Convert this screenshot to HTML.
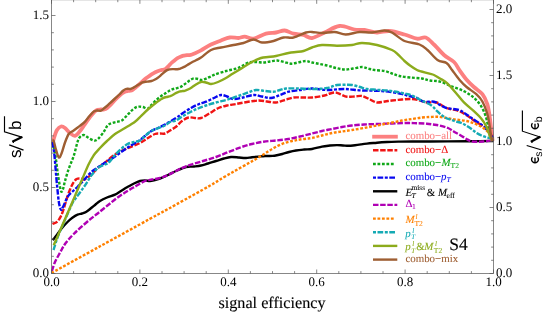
<!DOCTYPE html>
<html><head><meta charset="utf-8"><title>chart</title>
<style>html,body{margin:0;padding:0;background:#fff;}body{width:545px;height:314px;overflow:hidden;position:relative;font-family:"Liberation Serif",serif;}</style></head>
<body>
<svg width="545" height="314" viewBox="0 0 545 314" style="position:absolute;left:0;top:0;text-rendering:geometricPrecision;will-change:transform">
<rect x="0" y="0" width="545" height="314" fill="#fff"/>
<g opacity="0.999">
<defs><clipPath id="cp"><rect x="51.5" y="-0.2" width="443.0" height="273.7"/></clipPath></defs>
<g clip-path="url(#cp)" fill="none" stroke-linejoin="round">
<path d="M52.5 145.0C52.8 143.8 53.2 140.5 54.0 138.0C54.8 135.5 55.8 131.9 57.0 130.0C58.2 128.1 59.7 126.8 61.0 126.5C62.3 126.2 63.5 126.9 65.0 128.0C66.5 129.1 68.3 131.7 70.0 133.0C71.7 134.3 73.3 136.1 75.0 135.8C76.7 135.5 78.3 133.0 80.0 131.0C81.7 129.0 83.3 126.3 85.0 124.0C86.7 121.7 88.2 119.2 90.0 117.0C91.8 114.8 94.2 111.8 96.0 110.5C97.8 109.2 99.7 109.7 101.0 109.5C102.3 109.3 103.0 109.8 104.0 109.5C105.0 109.2 106.1 108.6 107.3 107.8C108.5 107.0 109.8 105.7 111.0 104.5C112.2 103.3 113.2 101.9 114.5 100.5C115.8 99.1 117.4 97.4 119.0 96.0C120.6 94.6 122.7 92.9 124.2 92.1C125.7 91.3 126.8 91.2 128.0 91.0C129.2 90.8 130.3 91.1 131.5 90.6C132.7 90.1 133.8 89.0 135.0 88.0C136.2 87.0 137.4 85.9 138.7 84.8C139.9 83.7 141.3 82.4 142.5 81.3C143.7 80.2 144.8 79.2 146.0 78.3C147.2 77.4 148.3 76.6 149.5 75.8C150.7 75.0 152.1 74.1 153.3 73.4C154.6 72.7 155.8 72.1 157.0 71.6C158.2 71.1 159.5 70.6 160.5 70.3C161.5 70.0 162.2 70.0 163.0 69.8C163.8 69.6 164.5 69.6 165.4 69.0C166.3 68.4 167.5 67.2 168.5 66.2C169.5 65.2 170.4 64.0 171.4 63.0C172.4 62.0 173.5 61.2 174.5 60.4C175.5 59.6 176.5 58.8 177.5 58.2C178.5 57.6 179.5 57.1 180.5 56.7C181.5 56.3 182.4 56.0 183.5 55.7C184.6 55.5 185.8 55.4 187.0 55.2C188.2 55.1 189.5 55.1 190.8 54.8C192.1 54.5 193.3 53.9 195.0 53.2C196.7 52.5 198.3 51.9 201.0 50.4C203.7 48.9 207.7 46.1 211.0 44.5C214.3 42.9 217.9 41.7 221.0 40.5C224.1 39.3 226.8 37.9 229.7 37.5C232.6 37.1 236.0 38.1 238.5 38.0C241.0 37.9 242.2 36.6 244.7 36.7C247.2 36.8 249.9 39.2 253.5 38.7C257.1 38.2 262.2 34.7 266.0 33.7C269.8 32.7 272.9 33.0 276.0 32.5C279.1 32.0 281.8 30.3 284.7 30.5C287.6 30.7 290.4 33.0 293.5 33.7C296.6 34.5 300.4 34.3 303.5 35.0C306.6 35.7 308.5 38.4 312.0 38.0C315.5 37.6 319.9 34.5 324.5 32.5C329.1 30.5 334.5 26.5 339.5 26.0C344.5 25.5 350.3 28.8 354.5 29.5C358.7 30.2 360.8 29.5 364.5 30.0C368.2 30.5 372.8 32.3 377.0 32.5C381.2 32.7 384.9 30.7 389.5 31.0C394.1 31.3 399.9 33.2 404.5 34.5C409.1 35.8 413.5 38.2 417.0 38.7C420.5 39.2 422.8 36.5 425.7 37.5C428.6 38.5 431.4 42.1 434.5 45.0C437.6 47.9 440.8 52.2 444.0 55.0C447.2 57.8 451.4 59.5 454.0 62.0C456.6 64.5 457.3 67.0 459.4 70.0C461.5 73.0 464.2 76.9 466.6 79.7C469.0 82.5 471.3 84.6 473.9 87.0C476.5 89.4 480.2 91.4 482.4 94.2C484.6 97.0 486.0 100.3 487.2 103.9C488.4 107.5 488.9 111.6 489.6 116.0C490.3 120.4 490.9 127.0 491.3 130.5C491.7 134.0 491.9 135.2 492.2 137.0C492.5 138.8 492.9 140.3 493.0 141.0" stroke="#fc8080" stroke-width="3.8"/>
<path d="M52.5 224.0C52.7 223.9 53.0 223.9 53.7 223.5C54.5 223.1 56.1 222.6 57.0 221.8C57.9 221.1 58.5 220.1 59.3 219.0C60.0 217.9 60.8 216.6 61.5 215.0C62.2 213.4 62.8 211.5 63.5 209.5C64.2 207.5 64.8 205.2 65.5 203.0C66.2 200.8 66.9 198.1 67.6 196.0C68.3 193.9 68.9 192.2 69.6 190.5C70.3 188.8 71.0 187.1 71.7 185.7C72.4 184.3 73.1 183.0 73.8 182.0C74.5 181.0 75.2 180.1 75.9 179.5C76.6 178.9 77.3 178.8 78.0 178.6C78.7 178.4 79.3 178.5 80.0 178.5C80.7 178.5 81.3 178.6 82.0 178.8C82.7 179.0 83.4 179.6 84.2 179.5C85.0 179.4 85.8 178.9 87.0 178.0C88.2 177.1 90.1 175.5 91.4 174.3C92.7 173.1 94.0 171.8 95.0 170.8C96.0 169.8 95.9 169.5 97.6 168.1C99.3 166.7 102.1 164.8 105.0 162.5C107.9 160.2 111.3 156.8 115.0 154.5C118.7 152.2 122.8 150.4 127.0 148.5C131.2 146.6 136.5 144.8 140.0 143.0C143.5 141.2 145.5 139.5 148.0 138.0C150.5 136.5 153.0 134.8 155.0 134.0C157.0 133.2 158.3 133.6 160.0 133.5C161.7 133.4 163.3 134.0 165.0 133.5C166.7 133.0 168.2 131.6 170.0 130.5C171.8 129.4 174.0 128.3 176.0 126.7C178.0 125.1 179.9 122.5 182.0 121.0C184.1 119.5 186.3 118.0 188.5 117.5C190.7 117.0 192.9 117.9 195.0 118.0C197.1 118.1 198.5 118.8 201.0 118.0C203.5 117.2 207.1 114.7 210.0 113.0C212.9 111.3 215.7 109.2 218.5 108.0C221.3 106.8 224.1 106.2 227.0 105.5C229.9 104.8 232.7 104.6 236.0 104.0C239.3 103.4 243.2 102.6 247.0 102.0C250.8 101.4 255.2 100.6 258.5 100.5C261.8 100.4 264.1 101.2 267.0 101.5C269.9 101.8 273.0 102.8 276.0 102.5C279.0 102.2 282.1 100.8 285.0 100.0C287.9 99.2 290.5 97.9 293.5 97.5C296.5 97.1 299.9 97.5 303.0 97.5C306.1 97.5 308.4 97.8 312.0 97.5C315.6 97.2 321.5 96.2 324.5 95.5C327.5 94.8 328.1 94.0 330.0 93.5C331.9 93.0 333.9 92.3 335.7 92.5C337.5 92.7 339.1 93.8 341.0 94.5C342.9 95.2 344.7 96.4 347.0 96.7C349.3 97.0 352.5 96.6 355.0 96.5C357.5 96.4 359.5 95.5 362.0 96.0C364.5 96.5 367.5 98.4 370.0 99.5C372.5 100.6 374.5 102.2 377.0 102.5C379.5 102.8 382.5 101.8 385.0 101.5C387.5 101.2 389.2 100.8 392.0 100.5C394.8 100.2 398.7 99.8 402.0 99.5C405.3 99.2 409.0 98.8 412.0 99.0C415.0 99.2 417.5 99.9 420.0 100.5C422.5 101.1 424.2 102.2 427.0 102.5C429.8 102.8 433.2 101.6 436.5 102.5C439.8 103.4 442.8 106.6 446.5 108.0C450.2 109.4 455.6 109.8 459.0 111.0C462.4 112.2 464.5 113.9 467.0 115.5C469.5 117.1 470.8 118.2 474.0 120.5C477.2 122.8 483.3 126.1 486.5 129.0C489.7 131.9 491.9 136.5 493.0 138.0" stroke="#f01414" stroke-width="2.4" stroke-dasharray="5.5 1.65"/>
<path d="M52.5 142.0C53.0 144.3 54.6 150.5 55.5 156.0C56.4 161.5 57.1 169.2 58.0 175.0C58.9 180.8 60.2 188.7 61.0 191.0C61.8 193.3 62.3 190.7 63.0 189.0C63.7 187.3 64.0 184.5 65.0 181.0C66.0 177.5 67.5 172.2 69.0 168.0C70.5 163.8 72.3 160.3 73.7 156.0C75.1 151.7 76.5 145.2 77.5 142.0C78.5 138.8 79.0 138.2 80.0 137.0C81.0 135.8 82.4 134.9 83.7 135.0C85.0 135.1 86.3 136.6 88.0 137.5C89.7 138.4 92.0 140.2 93.7 140.5C95.4 140.8 96.3 140.5 98.0 139.0C99.7 137.5 102.5 133.7 104.0 131.5C105.5 129.3 106.3 127.1 107.3 125.8C108.3 124.5 108.8 124.4 110.0 123.8C111.2 123.2 113.2 122.7 114.5 122.3C115.8 121.9 116.8 121.9 118.0 121.6C119.2 121.3 120.5 121.3 121.8 120.5C123.0 119.7 124.3 118.2 125.5 117.0C126.7 115.8 127.8 114.5 129.0 113.3C130.2 112.1 131.3 110.8 132.5 109.8C133.7 108.8 135.1 107.7 136.3 107.2C137.5 106.7 138.4 106.6 139.5 106.6C140.6 106.6 141.7 106.7 143.0 107.0C144.3 107.3 146.2 108.8 147.5 108.6C148.8 108.3 149.6 106.8 151.0 105.5C152.4 104.2 154.1 102.0 155.7 100.5C157.3 99.0 158.9 97.8 160.5 96.6C162.1 95.4 164.0 94.2 165.4 93.3C166.8 92.4 167.8 91.7 169.0 91.0C170.2 90.3 171.4 89.7 172.6 89.2C173.8 88.8 174.8 88.6 176.0 88.3C177.2 88.0 178.7 87.8 179.9 87.2C181.2 86.7 182.3 85.8 183.5 85.0C184.7 84.2 186.0 83.3 187.2 82.4C188.4 81.5 189.4 80.5 190.5 79.8C191.6 79.1 192.8 78.4 194.0 78.3C195.2 78.2 196.7 78.7 198.0 79.0C199.3 79.3 200.7 80.1 202.0 80.0C203.3 79.9 204.7 79.1 206.0 78.6C207.3 78.1 208.5 77.5 210.0 76.8C211.5 76.1 212.3 75.5 215.0 74.5C217.7 73.5 222.5 72.0 226.0 71.0C229.5 70.0 233.3 69.5 236.0 68.7C238.7 67.9 239.9 67.0 242.0 66.0C244.1 65.0 246.2 63.2 248.5 62.5C250.8 61.8 253.5 62.0 256.0 62.0C258.5 62.0 261.2 62.6 263.5 62.5C265.8 62.4 267.8 61.8 270.0 61.5C272.2 61.2 274.7 60.4 277.0 60.5C279.3 60.6 281.7 61.5 284.0 62.0C286.3 62.5 288.7 63.6 291.0 63.7C293.3 63.8 295.5 63.0 298.0 62.5C300.5 62.0 303.7 61.0 306.0 61.0C308.3 61.0 308.5 61.8 312.0 62.5C315.5 63.2 323.0 64.6 327.0 65.5C331.0 66.4 333.1 67.3 336.0 68.0C338.9 68.7 341.7 69.4 344.5 69.5C347.3 69.6 350.1 68.9 353.0 68.5C355.9 68.1 359.5 67.0 362.0 67.0C364.5 67.0 365.9 68.0 368.0 68.5C370.1 69.0 371.8 69.6 374.5 70.0C377.2 70.4 381.6 70.4 384.5 71.0C387.4 71.6 389.5 72.7 392.0 73.5C394.5 74.3 396.5 75.3 399.5 76.0C402.5 76.7 406.2 77.1 410.0 77.5C413.8 77.9 418.7 78.0 422.0 78.5C425.3 79.0 427.0 80.0 430.0 80.5C433.0 81.0 436.3 80.6 440.0 81.6C443.7 82.6 448.1 84.9 452.1 86.5C456.1 88.1 460.6 89.4 464.2 91.3C467.8 93.2 471.1 95.3 473.9 97.8C476.7 100.3 479.2 103.1 481.2 106.3C483.2 109.5 484.8 113.6 486.0 117.2C487.2 120.8 487.7 124.8 488.4 128.0C489.1 131.2 489.5 134.4 490.1 136.6C490.7 138.8 491.7 140.3 492.0 141.0" stroke="#10a818" stroke-width="2.4" stroke-dasharray="2.8 1.67"/>
<path d="M52.5 142.0C52.8 144.3 53.8 148.8 54.5 156.0C55.2 163.2 56.2 177.2 57.0 185.0C57.8 192.8 58.3 198.9 59.0 203.0C59.7 207.1 60.3 209.0 61.0 209.7C61.7 210.4 61.9 209.1 63.0 207.0C64.1 204.9 66.0 199.5 67.5 197.0C69.0 194.5 70.3 193.7 72.0 192.0C73.7 190.3 75.7 188.8 77.5 187.0C79.3 185.2 81.1 183.1 83.0 181.0C84.9 178.9 86.9 176.5 88.7 174.7C90.5 172.9 92.1 171.4 94.0 170.0C95.9 168.6 97.8 167.4 100.0 166.0C102.2 164.6 104.5 163.1 107.0 161.5C109.5 159.9 111.7 158.8 115.0 156.5C118.3 154.2 122.8 150.8 127.0 148.0C131.2 145.2 136.2 142.7 140.0 140.0C143.8 137.3 147.0 134.0 150.0 132.0C153.0 130.0 155.5 129.2 158.0 128.0C160.5 126.8 162.0 126.2 165.0 124.5C168.0 122.8 173.0 119.9 176.0 118.0C179.0 116.1 180.5 114.7 183.0 113.0C185.5 111.3 188.5 109.4 191.0 108.0C193.5 106.6 195.5 105.5 198.0 104.5C200.5 103.5 203.3 102.8 206.0 101.7C208.7 100.6 211.5 99.1 214.0 98.0C216.5 96.9 218.8 95.2 221.0 95.0C223.2 94.8 224.9 95.8 227.0 96.5C229.1 97.2 230.8 98.8 233.5 99.0C236.2 99.2 239.7 98.2 243.0 97.5C246.3 96.8 250.3 95.2 253.5 95.0C256.7 94.8 259.1 96.0 262.0 96.5C264.9 97.0 268.0 98.2 271.0 98.0C274.0 97.8 277.1 96.0 280.0 95.0C282.9 94.0 285.2 92.5 288.5 91.7C291.8 90.9 296.1 90.5 300.0 90.0C303.9 89.5 307.5 88.5 312.0 88.5C316.5 88.5 321.6 89.9 327.0 90.0C332.4 90.1 338.7 88.9 344.5 89.0C350.3 89.1 355.8 90.2 362.0 90.5C368.2 90.8 375.8 90.5 382.0 91.0C388.2 91.5 395.0 92.7 399.5 93.5C404.0 94.3 406.1 95.2 409.0 96.0C411.9 96.8 414.5 97.0 417.0 98.0C419.5 99.0 421.2 101.1 424.0 101.7C426.8 102.3 431.3 101.2 434.0 101.7C436.7 102.2 437.9 104.0 440.0 105.0C442.1 106.0 443.3 107.2 446.5 108.0C449.7 108.8 455.9 109.1 459.0 110.0C462.1 110.9 462.9 112.2 465.0 113.5C467.1 114.8 468.3 115.8 471.5 118.0C474.7 120.2 480.4 123.4 484.0 126.7C487.6 130.0 491.5 136.1 493.0 138.0" stroke="#0808f0" stroke-width="2.4" stroke-dasharray="5.7 1.6 3.0 1.5"/>
<path d="M52.5 240.0C52.7 239.8 52.9 240.0 53.7 239.0C54.5 238.0 56.1 235.8 57.5 234.0C58.9 232.2 60.3 230.0 62.0 228.0C63.7 226.0 65.8 223.7 67.5 222.0C69.2 220.3 70.3 219.2 72.0 218.0C73.7 216.8 75.8 215.4 77.5 214.7C79.2 213.9 80.6 213.9 82.0 213.5C83.4 213.1 84.7 212.8 86.0 212.0C87.3 211.2 88.5 210.2 90.0 209.0C91.5 207.8 93.3 206.3 95.0 205.0C96.7 203.7 98.0 202.2 100.0 201.0C102.0 199.8 104.5 198.6 107.0 197.5C109.5 196.4 112.7 195.8 115.0 194.7C117.3 193.6 118.9 192.3 121.0 191.0C123.1 189.7 125.3 188.2 127.5 187.0C129.7 185.8 131.9 184.5 134.0 183.5C136.1 182.5 138.2 181.5 140.0 181.0C141.8 180.5 143.3 180.5 145.0 180.5C146.7 180.5 148.3 181.1 150.0 181.0C151.7 180.9 153.3 180.4 155.0 180.0C156.7 179.6 157.8 179.3 160.0 178.5C162.2 177.7 165.3 176.2 168.0 175.0C170.7 173.8 173.0 172.3 176.0 171.0C179.0 169.7 183.0 167.8 186.0 167.0C189.0 166.2 191.5 166.8 194.0 166.5C196.5 166.2 198.7 166.0 201.0 165.5C203.3 165.0 205.5 164.2 208.0 163.5C210.5 162.8 213.3 161.8 216.0 161.0C218.7 160.2 221.5 159.2 224.0 158.5C226.5 157.8 228.5 157.2 231.0 157.0C233.5 156.8 236.5 157.3 239.0 157.5C241.5 157.7 243.8 158.1 246.0 158.0C248.2 157.9 249.9 157.4 252.0 157.2C254.1 157.0 256.3 156.8 258.5 156.6C260.7 156.4 262.6 156.1 265.0 156.0C267.4 155.9 270.4 156.1 272.6 155.9C274.8 155.7 276.4 155.3 278.0 155.0C279.6 154.7 280.5 154.5 282.3 154.0C284.1 153.5 286.7 152.6 289.0 152.0C291.3 151.4 293.5 150.9 296.0 150.5C298.5 150.1 301.3 149.8 304.0 149.5C306.7 149.2 309.0 149.5 312.0 149.0C315.0 148.5 319.0 147.2 322.0 146.6C325.0 146.0 327.5 145.8 330.0 145.5C332.5 145.2 334.8 145.1 337.0 145.1C339.2 145.1 341.0 145.4 343.0 145.5C345.0 145.6 347.0 145.9 349.0 145.8C351.0 145.8 353.0 145.4 355.0 145.2C357.0 145.0 359.0 144.7 361.0 144.4C363.0 144.1 364.3 143.9 367.0 143.6C369.7 143.3 373.7 143.0 377.0 142.7C380.3 142.4 383.2 142.2 387.0 142.0C390.8 141.8 395.8 141.7 400.0 141.6C404.2 141.5 407.0 141.5 412.0 141.5C417.0 141.5 424.0 141.5 430.0 141.5C436.0 141.5 441.3 141.5 448.0 141.4C454.7 141.3 462.4 141.3 470.0 141.2C477.6 141.1 489.6 141.0 493.5 141.0" stroke="#000000" stroke-width="2.4"/>
<path d="M51.8 271.0C51.9 270.7 52.0 270.5 52.5 269.0C53.0 267.5 54.0 264.3 55.0 262.0C56.0 259.7 57.5 257.2 58.7 255.0C59.9 252.8 61.0 250.8 62.0 249.0C63.0 247.2 63.8 245.7 65.0 244.0C66.2 242.3 67.5 240.7 69.0 239.0C70.5 237.3 71.7 236.0 73.7 234.0C75.7 232.0 78.3 229.6 81.0 227.2C83.7 224.8 87.2 221.7 90.0 219.4C92.8 217.1 95.1 215.5 98.0 213.2C100.9 210.9 104.3 208.0 107.5 205.5C110.7 203.0 113.7 200.4 117.0 198.0C120.3 195.6 124.3 193.0 127.5 191.0C130.7 189.0 133.1 187.7 136.0 186.0C138.9 184.3 142.3 182.1 145.0 181.0C147.7 179.9 149.5 180.0 152.0 179.5C154.5 179.0 157.3 178.8 160.0 178.0C162.7 177.2 165.3 176.2 168.0 175.0C170.7 173.8 173.5 172.2 176.0 171.0C178.5 169.8 180.5 168.7 183.0 167.6C185.5 166.5 187.7 165.7 191.0 164.6C194.3 163.5 198.8 162.3 203.0 161.0C207.2 159.7 211.8 158.5 216.0 157.0C220.2 155.5 223.8 153.8 228.0 152.2C232.2 150.6 237.0 148.6 241.0 147.2C245.0 145.8 248.2 144.9 252.0 144.0C255.8 143.1 259.5 142.3 263.5 141.7C267.5 141.1 271.8 140.9 276.0 140.5C280.2 140.1 284.5 139.7 288.5 139.0C292.5 138.3 296.1 137.4 300.0 136.5C303.9 135.6 308.3 134.4 312.0 133.5C315.7 132.6 318.7 131.8 322.0 131.0C325.3 130.2 328.7 129.7 332.0 129.0C335.3 128.3 338.7 127.6 342.0 127.0C345.3 126.4 348.3 125.9 352.0 125.5C355.7 125.1 359.8 124.8 364.0 124.5C368.2 124.2 372.3 124.2 377.0 124.0C381.7 123.8 387.0 123.7 392.0 123.5C397.0 123.3 402.8 123.0 407.0 123.0C411.2 123.0 413.7 123.1 417.0 123.2C420.3 123.3 424.3 123.5 427.0 123.7C429.7 123.9 430.9 124.2 433.0 124.5C435.1 124.8 437.0 124.9 439.5 125.5C442.0 126.1 445.6 127.0 448.0 128.0C450.4 129.0 452.0 130.5 454.0 131.7C456.0 132.9 457.9 133.8 460.0 135.0C462.1 136.2 464.8 138.0 466.5 139.0C468.2 140.0 468.8 140.4 470.0 140.8C471.2 141.2 471.8 141.6 474.0 141.7C476.2 141.8 479.8 141.7 483.0 141.5C486.2 141.3 491.3 140.7 493.0 140.5" stroke="#b000b4" stroke-width="2.4" stroke-dasharray="5.5 1.65"/>
<path d="M51.5 273.0C59.6 268.6 83.6 255.3 100.0 246.3C116.4 237.3 137.3 225.8 150.0 218.8C162.7 211.9 166.1 210.1 176.0 204.6C185.9 199.1 201.7 190.4 209.7 185.8C217.7 181.2 219.8 179.6 224.2 177.0C228.6 174.4 232.0 172.6 236.0 170.3C240.0 168.0 245.1 165.2 248.4 163.3C251.7 161.4 253.6 160.4 256.0 159.0C258.4 157.6 261.0 156.0 263.0 154.8C265.0 153.6 266.4 152.6 268.0 151.6C269.6 150.6 271.0 149.6 272.6 148.7C274.2 147.8 275.9 146.8 277.5 146.0C279.1 145.2 280.7 144.5 282.3 143.9C283.9 143.3 285.4 142.8 287.0 142.3C288.6 141.8 290.5 141.3 292.0 141.0C293.5 140.7 294.7 140.4 296.0 140.2C297.3 139.9 298.3 139.8 300.0 139.5C301.7 139.2 304.0 138.9 306.0 138.7C308.0 138.4 309.3 138.5 312.0 138.0C314.7 137.5 318.7 136.3 322.0 135.5C325.3 134.7 328.7 133.7 332.0 133.0C335.3 132.3 338.7 132.0 342.0 131.5C345.3 131.0 348.3 130.6 352.0 130.0C355.7 129.4 359.8 128.8 364.0 128.0C368.2 127.2 372.7 126.3 377.0 125.5C381.3 124.7 385.8 123.8 390.0 123.0C394.2 122.2 398.3 121.2 402.0 120.5C405.7 119.8 408.7 119.5 412.0 119.0C415.3 118.5 419.0 117.8 422.0 117.5C425.0 117.2 427.5 117.1 430.0 117.0C432.5 116.9 434.7 116.6 437.0 116.7C439.3 116.8 441.6 117.1 444.0 117.5C446.4 117.9 449.0 118.6 451.5 119.0C454.0 119.4 456.5 119.7 459.0 120.0C461.5 120.3 464.2 120.5 466.5 121.0C468.8 121.5 470.9 122.2 473.0 123.0C475.1 123.8 477.2 124.6 479.0 125.5C480.8 126.4 482.3 127.2 484.0 128.5C485.7 129.8 487.5 131.2 489.0 133.0C490.5 134.8 492.3 138.0 493.0 139.0" stroke="#ff8000" stroke-width="2.4" stroke-dasharray="2.8 1.67"/>
<path d="M53.5 250.0C54.1 248.2 55.7 242.7 57.0 239.0C58.3 235.3 59.8 232.0 61.5 228.0C63.2 224.0 65.2 219.4 67.0 215.2C68.8 211.0 71.0 205.8 72.5 203.0C74.0 200.2 74.5 200.1 75.9 198.1C77.3 196.1 79.4 193.3 81.1 190.9C82.8 188.5 84.5 186.2 86.2 183.6C87.9 181.0 89.7 177.8 91.4 175.4C93.1 173.0 95.2 170.6 96.6 169.1C98.0 167.6 98.8 167.2 100.0 166.5C101.2 165.8 102.8 165.3 104.0 164.8C105.2 164.3 106.3 164.3 107.5 163.5C108.7 162.7 109.8 161.4 111.0 160.0C112.2 158.6 113.3 156.8 115.0 155.0C116.7 153.2 118.9 150.8 121.0 149.0C123.1 147.2 125.3 145.2 127.5 144.0C129.7 142.8 131.9 142.6 134.0 142.0C136.1 141.4 138.2 141.5 140.0 140.5C141.8 139.5 143.3 137.5 145.0 136.0C146.7 134.5 148.0 132.9 150.0 131.7C152.0 130.4 154.5 129.5 157.0 128.5C159.5 127.5 162.8 126.6 165.0 125.5C167.2 124.4 168.2 122.8 170.0 122.0C171.8 121.2 173.8 121.5 176.0 120.5C178.2 119.5 180.5 117.5 183.0 116.0C185.5 114.5 188.5 113.0 191.0 111.7C193.5 110.5 195.5 109.5 198.0 108.5C200.5 107.5 203.0 106.5 206.0 105.5C209.0 104.5 212.7 103.4 216.0 102.5C219.3 101.6 223.0 100.8 226.0 100.0C229.0 99.2 231.5 98.3 234.0 97.5C236.5 96.7 238.7 95.8 241.0 95.0C243.3 94.2 245.5 93.3 248.0 92.5C250.5 91.7 253.2 90.2 256.0 90.0C258.8 89.8 262.1 90.7 265.0 91.0C267.9 91.3 271.0 91.9 273.5 91.7C276.0 91.5 277.9 90.5 280.0 90.0C282.1 89.5 283.0 88.8 286.0 88.5C289.0 88.2 293.7 88.4 298.0 88.5C302.3 88.6 308.3 89.0 312.0 89.0C315.7 89.0 317.5 89.0 320.0 88.8C322.5 88.6 325.0 88.4 327.0 88.0C329.0 87.6 330.3 87.0 332.0 86.5C333.7 86.0 335.0 85.3 337.0 85.0C339.0 84.7 341.5 84.8 344.0 84.8C346.5 84.8 349.3 84.6 352.0 85.0C354.7 85.4 357.5 86.3 360.0 87.0C362.5 87.7 364.2 88.5 367.0 89.0C369.8 89.5 373.7 89.5 377.0 89.8C380.3 90.0 383.8 90.2 387.0 90.5C390.2 90.8 393.1 91.3 396.0 91.8C398.9 92.3 402.3 93.0 404.5 93.5C406.7 94.0 407.2 93.9 409.0 94.5C410.8 95.1 412.9 96.0 415.0 97.0C417.1 98.0 418.8 99.1 421.5 100.5C424.2 101.9 429.1 103.9 431.5 105.5C433.9 107.1 434.3 108.4 436.0 110.0C437.7 111.6 439.8 113.7 441.5 115.0C443.2 116.3 444.3 117.2 446.0 118.0C447.7 118.8 449.8 119.4 451.5 120.0C453.2 120.6 454.3 121.0 456.0 121.5C457.7 122.0 459.8 122.3 461.5 123.0C463.2 123.7 464.3 124.5 466.0 125.5C467.7 126.5 469.8 127.8 471.5 129.0C473.2 130.2 474.3 131.4 476.0 132.5C477.7 133.6 479.7 134.7 481.5 135.5C483.3 136.3 485.1 137.0 487.0 137.5C488.9 138.0 492.0 138.3 493.0 138.5" stroke="#14aab4" stroke-width="2.4" stroke-dasharray="5.7 1.6 3.0 1.5"/>
<path d="M53.7 245.3C54.8 242.7 58.2 234.9 60.4 229.8C62.6 224.7 64.6 220.1 67.0 214.5C69.4 208.9 72.4 202.0 74.8 196.4C77.2 190.8 79.2 186.0 81.5 180.8C83.8 175.6 86.3 169.2 88.3 165.0C90.3 160.8 91.8 158.1 93.7 155.3C95.7 152.5 97.8 150.4 100.0 148.0C102.2 145.6 104.5 143.3 107.0 141.0C109.5 138.7 112.0 136.2 115.0 134.0C118.0 131.8 121.7 130.1 125.0 128.0C128.3 126.0 132.3 123.7 135.0 121.7C137.7 119.7 139.0 117.9 141.2 115.8C143.4 113.7 146.0 111.1 148.4 109.0C150.8 106.9 153.8 104.5 155.7 103.0C157.6 101.5 158.8 100.8 160.0 100.0C161.2 99.2 161.9 98.6 163.0 98.1C164.1 97.6 165.3 97.3 166.5 97.0C167.7 96.7 168.9 96.7 170.2 96.2C171.4 95.7 172.8 94.9 174.0 94.2C175.2 93.5 176.3 92.8 177.5 92.3C178.7 91.8 179.8 91.5 181.0 91.3C182.2 91.0 183.4 91.1 184.7 90.8C185.9 90.5 187.3 89.9 188.5 89.3C189.7 88.7 190.8 88.0 192.0 87.2C193.2 86.4 194.5 85.4 196.0 84.5C197.5 83.6 199.3 82.3 201.0 82.0C202.7 81.7 204.3 82.2 206.0 82.5C207.7 82.8 209.0 84.1 211.0 84.0C213.0 83.9 215.5 83.0 218.0 82.0C220.5 81.0 223.5 79.4 226.0 78.0C228.5 76.6 230.5 75.0 233.0 73.5C235.5 72.0 238.0 70.5 241.0 68.7C244.0 66.9 247.7 64.3 251.0 62.5C254.3 60.7 258.2 58.9 261.0 58.0C263.8 57.1 265.5 57.3 268.0 57.0C270.5 56.7 272.6 56.7 276.0 56.0C279.4 55.3 285.2 53.7 288.5 53.0C291.8 52.3 293.5 52.3 296.0 52.0C298.5 51.7 300.8 51.8 303.5 51.0C306.2 50.2 308.9 48.5 312.0 47.5C315.1 46.5 317.8 45.3 322.0 45.0C326.2 44.7 332.0 45.7 337.0 45.7C342.0 45.7 347.8 45.5 352.0 45.0C356.2 44.5 357.8 43.0 362.0 43.0C366.2 43.0 372.0 43.8 377.0 45.0C382.0 46.2 388.5 48.4 392.0 50.0C395.5 51.6 395.9 52.7 398.0 54.5C400.1 56.3 402.5 59.2 404.5 61.0C406.5 62.8 407.9 64.0 410.0 65.5C412.1 67.0 415.1 69.0 417.0 70.0C418.9 71.0 419.4 70.9 421.5 71.5C423.6 72.1 427.4 73.1 429.5 73.7C431.6 74.3 432.2 74.2 434.0 75.0C435.8 75.8 437.8 77.1 440.0 78.5C442.2 79.9 444.5 80.7 447.3 83.3C450.1 85.9 454.2 91.0 457.0 94.2C459.8 97.4 461.4 99.9 464.2 102.7C467.0 105.5 471.1 108.6 473.9 111.2C476.7 113.8 479.2 116.0 481.2 118.4C483.2 120.8 484.6 122.9 486.0 125.7C487.4 128.5 488.6 132.8 489.6 135.4C490.6 138.0 491.6 140.1 492.0 141.0" stroke="#8cab1c" stroke-width="2.4"/>
<path d="M52.3 141.0C52.5 141.0 53.2 139.8 53.7 141.0C54.2 142.2 54.7 145.3 55.5 148.0C56.3 150.7 57.7 156.4 58.7 157.3C59.7 158.2 60.5 156.0 61.5 153.5C62.5 151.0 63.8 145.8 65.0 142.5C66.2 139.2 67.4 135.9 68.7 134.0C70.0 132.1 71.5 132.0 73.0 131.0C74.5 130.0 76.1 128.8 77.4 127.8C78.7 126.8 79.7 126.0 81.0 125.0C82.3 124.0 83.6 123.1 85.0 121.6C86.4 120.1 88.0 117.7 89.5 116.0C91.0 114.3 92.5 112.5 93.7 111.6C95.0 110.7 95.8 110.7 97.0 110.5C98.2 110.3 99.7 111.1 101.0 110.6C102.3 110.1 103.5 108.7 105.0 107.5C106.5 106.3 108.1 104.8 109.7 103.4C111.3 102.0 112.9 100.5 114.5 99.0C116.1 97.5 118.0 95.9 119.4 94.5C120.8 93.1 121.9 91.7 123.0 90.8C124.1 89.9 125.0 89.3 125.8 89.0C126.6 88.7 127.2 88.8 128.0 88.8C128.8 88.8 129.6 89.2 130.5 89.0C131.4 88.8 132.5 88.1 133.5 87.6C134.5 87.1 135.3 86.6 136.3 86.0C137.3 85.4 138.5 84.6 139.5 84.0C140.5 83.4 141.4 82.8 142.4 82.4C143.4 82.0 144.5 82.0 145.5 81.8C146.5 81.6 147.4 81.6 148.4 81.5C149.4 81.4 150.5 81.3 151.5 81.0C152.5 80.7 153.5 80.3 154.5 79.8C155.5 79.3 156.5 78.7 157.5 78.0C158.5 77.3 159.5 76.5 160.5 75.6C161.5 74.7 162.5 73.7 163.5 72.8C164.5 71.9 165.6 71.0 166.6 70.4C167.6 69.8 168.5 69.6 169.5 69.4C170.5 69.2 171.6 69.1 172.6 69.1C173.6 69.1 174.5 69.2 175.5 69.2C176.5 69.2 177.7 69.2 178.7 69.0C179.7 68.8 180.5 68.4 181.5 68.0C182.5 67.6 183.6 67.2 184.7 66.6C185.8 66.0 186.8 65.3 188.0 64.6C189.2 63.9 190.7 63.0 192.0 62.3C193.3 61.6 194.5 61.0 196.0 60.2C197.5 59.4 198.5 59.2 201.0 57.5C203.5 55.8 207.7 51.7 211.0 50.0C214.3 48.3 217.2 48.3 221.0 47.5C224.8 46.7 229.8 45.8 233.5 45.0C237.2 44.2 240.2 43.9 243.5 43.0C246.8 42.1 250.4 39.6 253.5 39.5C256.6 39.4 258.7 42.2 262.0 42.5C265.3 42.8 269.9 41.8 273.5 41.0C277.1 40.2 280.2 38.1 283.5 37.5C286.8 36.9 289.8 38.3 293.5 37.5C297.2 36.7 302.9 33.4 306.0 32.5C309.1 31.6 309.3 31.9 312.0 32.0C314.7 32.1 318.2 33.0 322.0 33.0C325.8 33.0 330.6 31.8 334.5 32.0C338.4 32.2 341.5 34.5 345.7 34.5C349.9 34.5 355.1 32.3 359.5 32.0C363.9 31.7 367.8 32.8 372.0 32.5C376.2 32.2 381.2 30.5 384.5 30.5C387.8 30.5 388.7 30.8 392.0 32.5C395.3 34.2 399.9 39.0 404.5 41.0C409.1 43.0 415.7 43.0 419.5 44.5C423.3 46.0 424.5 47.4 427.5 50.0C430.5 52.6 434.3 57.8 437.5 60.0C440.7 62.2 444.1 61.3 446.5 63.0C448.9 64.7 450.0 67.2 452.1 70.0C454.2 72.8 457.0 76.9 459.4 79.7C461.8 82.5 463.8 84.6 466.6 87.0C469.4 89.4 473.7 91.8 476.3 94.2C478.9 96.6 480.6 98.3 482.4 101.5C484.2 104.7 486.0 109.6 487.2 113.6C488.4 117.6 489.0 122.1 489.6 125.7C490.2 129.3 490.5 132.8 491.0 135.4C491.5 138.0 492.2 140.1 492.5 141.0" stroke="#9e5e32" stroke-width="2.4"/>
</g>
<g stroke="#555" stroke-width="0.7" fill="none">
<rect x="51.5" y="-0.2" width="442.0" height="273.7"/>
<path d="M51.50 273.5v-4.0M51.50 -0.2v4.0M73.60 273.5v-2.4M73.60 -0.2v2.4M95.70 273.5v-2.4M95.70 -0.2v2.4M117.80 273.5v-2.4M117.80 -0.2v2.4M139.90 273.5v-4.0M139.90 -0.2v4.0M162.00 273.5v-2.4M162.00 -0.2v2.4M184.10 273.5v-2.4M184.10 -0.2v2.4M206.20 273.5v-2.4M206.20 -0.2v2.4M228.30 273.5v-4.0M228.30 -0.2v4.0M250.40 273.5v-2.4M250.40 -0.2v2.4M272.50 273.5v-2.4M272.50 -0.2v2.4M294.60 273.5v-2.4M294.60 -0.2v2.4M316.70 273.5v-4.0M316.70 -0.2v4.0M338.80 273.5v-2.4M338.80 -0.2v2.4M360.90 273.5v-2.4M360.90 -0.2v2.4M383.00 273.5v-2.4M383.00 -0.2v2.4M405.10 273.5v-4.0M405.10 -0.2v4.0M427.20 273.5v-2.4M427.20 -0.2v2.4M449.30 273.5v-2.4M449.30 -0.2v2.4M471.40 273.5v-2.4M471.40 -0.2v2.4M493.50 273.5v-4.0M493.50 -0.2v4.0M51.5 273.50h4.0M51.5 256.30h2.4M51.5 239.10h2.4M51.5 221.90h2.4M51.5 204.70h2.4M51.5 187.50h4.0M51.5 170.30h2.4M51.5 153.10h2.4M51.5 135.90h2.4M51.5 118.70h2.4M51.5 101.50h4.0M51.5 84.30h2.4M51.5 67.10h2.4M51.5 49.90h2.4M51.5 32.70h2.4M51.5 15.50h4.0M493.5 273.50h-4.0M493.5 260.30h-2.4M493.5 247.10h-2.4M493.5 233.90h-2.4M493.5 220.70h-2.4M493.5 207.50h-4.0M493.5 194.30h-2.4M493.5 181.10h-2.4M493.5 167.90h-2.4M493.5 154.70h-2.4M493.5 141.50h-4.0M493.5 128.30h-2.4M493.5 115.10h-2.4M493.5 101.90h-2.4M493.5 88.70h-2.4M493.5 75.50h-4.0M493.5 62.30h-2.4M493.5 49.10h-2.4M493.5 35.90h-2.4M493.5 22.70h-2.4M493.5 9.50h-4.0"/>
</g>
<g font-family="Liberation Serif, serif" font-size="13px" fill="#000">
<text x="48.9" y="277.2" text-anchor="end">0.0</text>
<text x="48.9" y="191.2" text-anchor="end">0.5</text>
<text x="48.9" y="105.2" text-anchor="end">1.0</text>
<text x="48.9" y="19.2" text-anchor="end">1.5</text>
<text x="496" y="276.5">0.0</text>
<text x="496" y="211.2">0.5</text>
<text x="496" y="145.2">1.0</text>
<text x="496" y="79.2">1.5</text>
<text x="496" y="13.2">2.0</text>
<text x="51.5" y="285.5" text-anchor="middle">0.0</text>
<text x="139.9" y="285.5" text-anchor="middle">0.2</text>
<text x="228.3" y="285.5" text-anchor="middle">0.4</text>
<text x="316.7" y="285.5" text-anchor="middle">0.6</text>
<text x="405.1" y="285.5" text-anchor="middle">0.8</text>
<text x="493.5" y="285.5" text-anchor="middle">1.0</text>
</g>
<text x="272" y="307.5" text-anchor="middle" font-family="Liberation Serif, serif" font-size="16.2px" fill="#000" stroke="#000" stroke-width="0.12">signal efficiency</text>
<g fill="none">
<path d="M372.2 136.7H397.8" stroke="#fc8080" stroke-width="3.8"/>
<path d="M373.0 150.3H397.3" stroke="#f01414" stroke-width="2.4" stroke-dasharray="5.5 1.65"/>
<path d="M373.0 164.0H394.6" stroke="#10a818" stroke-width="2.4" stroke-dasharray="2.8 1.67"/>
<path d="M373.0 177.6H395.0" stroke="#0808f0" stroke-width="2.4" stroke-dasharray="5.7 1.6 3.0 1.5" stroke-dashoffset="7.3"/>
<path d="M373.0 191.3H397.3" stroke="#000000" stroke-width="2.4"/>
<path d="M373.0 204.9H397.3" stroke="#b000b4" stroke-width="2.4" stroke-dasharray="5.5 1.65"/>
<path d="M373.0 218.6H394.6" stroke="#ff8000" stroke-width="2.4" stroke-dasharray="2.8 1.67"/>
<path d="M373.0 232.2H395.0" stroke="#14aab4" stroke-width="2.4" stroke-dasharray="5.7 1.6 3.0 1.5" stroke-dashoffset="7.3"/>
<path d="M373.0 245.9H397.3" stroke="#8cab1c" stroke-width="2.4"/>
<path d="M373.0 259.6H397.3" stroke="#9e5e32" stroke-width="2.4"/>
</g>
<g font-family="Liberation Serif, serif" fill="#fc8080" stroke="#fc8080" stroke-width="0.08"><text x="405.4" y="139.2" font-size="10.9px">combo−all</text></g>
<g font-family="Liberation Serif, serif" fill="#f01414" stroke="#f01414" stroke-width="0.08"><text x="405.4" y="152.9" font-size="10.9px">combo−Δ</text></g>
<g font-family="Liberation Serif, serif" fill="#10a818" stroke="#10a818" stroke-width="0.08"><text x="405.4" y="166.2" font-size="10.9px">combo−</text><text x="441.4" y="166.2" font-size="10.9px" font-style="italic">M</text><text x="450.6" y="168.4" font-size="7.6px">T2</text></g>
<g font-family="Liberation Serif, serif" fill="#0808f0" stroke="#0808f0" stroke-width="0.08"><text x="405.4" y="180.0" font-size="10.9px">combo−</text><text x="441.0" y="180.0" font-size="10.9px" font-style="italic">p</text><text x="446.6" y="182.2" font-size="7.6px" font-style="italic">T</text></g>
<g font-family="Liberation Serif, serif" fill="#000000" stroke="#000000" stroke-width="0.08"><text x="405.4" y="195.8" font-size="10.9px" font-style="italic">E</text><text x="411.6" y="198.0" font-size="7.6px" font-style="italic">T</text><text x="411.5" y="189.8" font-size="7.4px">miss</text><text x="426.8" y="195.8" font-size="10.9px">&amp;</text><text x="438.0" y="195.8" font-size="10.9px" font-style="italic">M</text><text x="446.6" y="198.0" font-size="7.6px">eff</text></g>
<g font-family="Liberation Serif, serif" fill="#b000b4" stroke="#b000b4" stroke-width="0.08"><text x="405.4" y="207.3" font-size="10.9px">Δ</text><text x="412.0" y="209.0" font-size="7.6px">1</text></g>
<g font-family="Liberation Serif, serif" fill="#ff8000" stroke="#ff8000" stroke-width="0.08"><text x="405.4" y="223.3" font-size="10.9px" font-style="italic">M</text><text x="414.4" y="225.6" font-size="7.6px">T2</text><text x="415.4" y="219.0" font-size="7.0px" font-style="italic">l</text></g>
<g font-family="Liberation Serif, serif" fill="#14aab4" stroke="#14aab4" stroke-width="0.08"><text x="405.2" y="236.7" font-size="10.9px" font-style="italic">p</text><text x="411.2" y="239.3" font-size="7.0px" font-style="italic">T</text><text x="412.2" y="232.7" font-size="7.0px" font-style="italic">l</text></g>
<g font-family="Liberation Serif, serif" fill="#8cab1c" stroke="#8cab1c" stroke-width="0.08"><text x="405.2" y="250.0" font-size="10.9px" font-style="italic">p</text><text x="411.2" y="252.9" font-size="7.0px" font-style="italic">T</text><text x="412.2" y="246.3" font-size="7.0px" font-style="italic">l</text><text x="416.2" y="250.0" font-size="10.9px">&amp;</text><text x="424.2" y="250.0" font-size="10.9px" font-style="italic">M</text><text x="433.8" y="253.3" font-size="7.6px">T2</text><text x="435.0" y="246.2" font-size="7.0px" font-style="italic">l</text></g>
<g font-family="Liberation Serif, serif" fill="#9e5e32" stroke="#9e5e32" stroke-width="0.08"><text x="405.4" y="262.2" font-size="10.9px">combo−mix</text></g>
<text x="449.2" y="250.3" font-family="Liberation Serif, serif" font-size="17.5px" fill="#000" stroke="#000" stroke-width="0.12">S4</text>
<g transform="translate(21.2,158) rotate(-90)" font-family="Liberation Sans, sans-serif" fill="#000" stroke-linecap="butt" stroke-linejoin="miter">
<text x="0" y="0" font-size="17px">s</text>
<path d="M7.9 2.3L13.1 -12" fill="none" stroke="#000" stroke-width="1.3"/>
<path d="M15.0 -7.4L16.6 -8.6" fill="none" stroke="#000" stroke-width="1.0"/>
<path d="M16.3 -8.9L21.0 0.8" fill="none" stroke="#000" stroke-width="2.3"/>
<path d="M20.6 1.4L26.2 -16.7H41.7" fill="none" stroke="#000" stroke-width="1.15"/>
<text x="28" y="0" font-size="17px">b</text>
</g>
<g transform="translate(538.8,163.2) rotate(-90)" font-family="Liberation Sans, sans-serif" fill="#000">
<path d="M5.90 -6.3A3.2 3.45 0 1 0 5.90 -1.3M0.80 -3.8H5.40" fill="none" stroke="#000" stroke-width="1.35"/>
<text x="6.4" y="2.9" font-size="10.5px">s</text>
<path d="M13.2 2.9L17.7 -12.1" fill="none" stroke="#000" stroke-width="1.3"/>
<path d="M20.2 -6.4L21.8 -7.6" fill="none" stroke="#000" stroke-width="1.0"/>
<path d="M21.5 -7.9L26.4 1.4" fill="none" stroke="#000" stroke-width="2.3"/>
<path d="M26.0 2.0L32.0 -16.4H52.6" fill="none" stroke="#000" stroke-width="1.15"/>
<path d="M39.90 -6.3A3.2 3.45 0 1 0 39.90 -1.3M34.80 -3.8H39.40" fill="none" stroke="#000" stroke-width="1.35"/>
<text x="41.0" y="2.9" font-size="10.5px">b</text>
</g>
</g>
</svg>
</body></html>
